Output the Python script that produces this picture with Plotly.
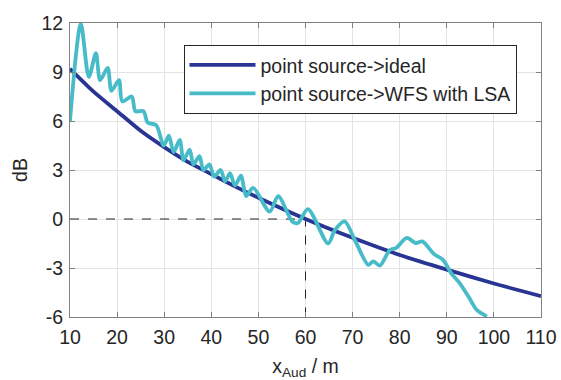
import plotly.graph_objects as go

# ideal curve
ideal_x = [10, 15, 20, 25, 30, 35, 40, 45, 50, 60, 70, 80, 90, 100, 110]
ideal_y = [9.2, 7.8, 6.6, 5.4, 4.4, 3.5, 2.75, 2.0, 1.3, 0.0, -1.15, -2.2, -3.1, -3.95, -4.72]

# WFS with LSA curve
wfs_x = [10.0, 12.3, 14.0, 15.5, 16.4, 18.0, 18.8, 20.4, 21.1, 23.1, 23.9, 25.6, 26.5,
         28.3, 29.9, 31.0, 32.0, 33.3, 34.1, 35.4, 36.2, 37.5, 38.3, 39.6, 40.6, 42.0,
         42.9, 44.0, 45.0, 46.3, 47.4, 48.9, 52.4, 54.2, 57.2, 58.4, 60.5, 64.8, 66.2,
         68.3, 70.5, 73.3, 74.4, 75.8, 77.9, 79.2, 81.5, 83.4, 84.8, 87.3, 89.2, 91.0,
         92.8, 94.6, 96.3, 98.5]
wfs_y = [6.0, 11.95, 8.7, 10.15, 8.5, 9.25, 7.85, 8.5, 7.2, 7.5, 6.6, 6.6, 5.9,
         5.75, 4.5, 5.1, 4.1, 4.85, 3.6, 4.25, 3.35, 3.85, 3.0, 3.35, 2.6, 3.0,
         2.3, 2.8, 2.05, 2.65, 1.4, 1.9, 0.45, 1.4, -0.15, -0.25, 0.6, -1.5, -0.7,
         -0.15, -1.3, -2.8, -2.6, -2.85, -1.9, -1.78, -1.16, -1.47, -1.37, -2.15, -2.5, -3.35,
         -3.95, -4.75, -5.55, -5.96]

# reference guide (dashed)
ref_x = [10, 60, 60]
ref_y = [0, 0, -6]

x_ticks = [10, 20, 30, 40, 50, 60, 70, 80, 90, 100, 110]
y_ticks = [-6, -3, 0, 3, 6, 9, 12]
y_ticktext = ["-6", "-3", "0", "3", "6", "9", "12"]

BLUE = "#283593"
CYAN = "#48BBC9"
FONT = "Liberation Sans, Arial, sans-serif"
FS = 19.5

fig = go.Figure()
fig.add_trace(go.Scatter(x=ref_x, y=ref_y, mode="lines", showlegend=False,
                         line=dict(color="#262626", width=1, dash="dash")))
fig.add_trace(go.Scatter(x=ideal_x, y=ideal_y, mode="lines", name="point source->ideal",
                         line=dict(color=BLUE, width=3.8, shape="spline", smoothing=0.6)))
fig.add_trace(go.Scatter(x=wfs_x, y=wfs_y, mode="lines", name="point source->WFS with LSA",
                         line=dict(color=CYAN, width=3.8, shape="spline", smoothing=0.8)))

axis_common = dict(showline=True, linecolor="#808080", linewidth=1, mirror="ticks",
                   ticks="inside", ticklen=5, tickcolor="#808080",
                   showgrid=True, gridcolor="#e3e3e3", gridwidth=1, zeroline=False,
                   ticklabeloverflow="allow", automargin=False,
                   tickfont=dict(family=FONT, size=FS, color="#262626"))

fig.update_layout(
    width=561, height=380,
    margin=dict(l=70, r=20, t=23, b=63),
    paper_bgcolor="white", plot_bgcolor="white",
    font=dict(family=FONT, size=FS, color="#262626"),
    xaxis=dict(range=[10, 110], tickvals=x_ticks, **axis_common,
               ticklabelstandoff=3,
               title=dict(text="x<sub>Aud</sub> / m", font=dict(family=FONT, size=FS),
                          standoff=15)),
    yaxis=dict(range=[-6, 12], tickvals=y_ticks, ticktext=y_ticktext, **axis_common,
               ticklabelstandoff=2,
               title=dict(text="dB", font=dict(family=FONT, size=FS), standoff=8)),
    legend=dict(x=0.241, y=0.926, xanchor="left", yanchor="top",
                bgcolor="white", bordercolor="#262626", borderwidth=1,
                font=dict(family=FONT, size=FS, color="#262626"),
                itemwidth=66, tracegroupgap=0),
)

fig.write_html("out.html", config={"displayModeBar": False},
               post_script="document.body.style.margin='0';")
